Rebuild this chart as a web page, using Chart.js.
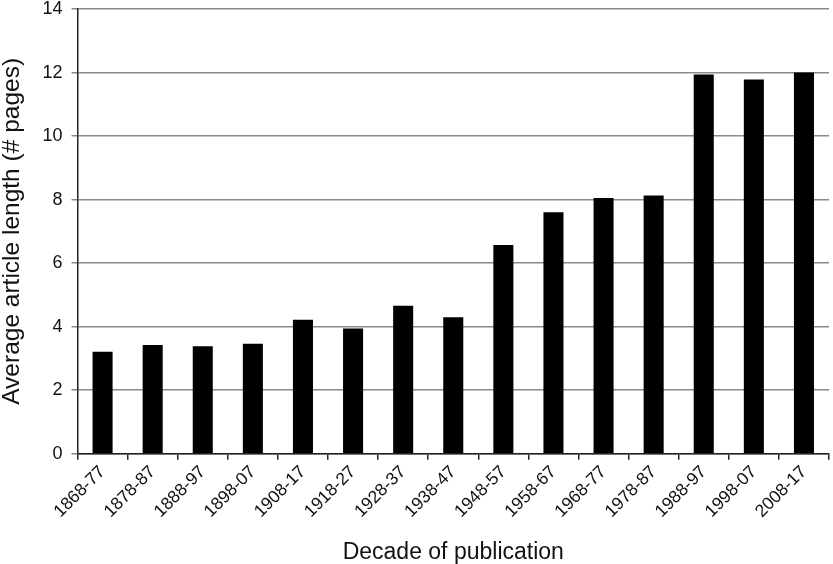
<!DOCTYPE html>
<html>
<head>
<meta charset="utf-8">
<script src="https://cdn.jsdelivr.net/npm/chart.js@4/dist/chart.umd.min.js"></script>
<style>
  html, body { margin: 0; padding: 0; background: #fff; }
  #wrap { width: 833px; height: 564px; }
</style>
</head>
<body>
<div id="wrap"><canvas id="chart" width="833" height="564"></canvas></div>
<script>
// Decades and average article length (pages)
const decades = [
  "1868-77", "1878-87", "1888-97", "1898-07", "1908-17", "1918-27", "1928-37",
  "1938-47", "1948-57", "1958-67", "1968-77", "1978-87", "1988-97", "1998-07", "2008-17"
];
const avgLength = [3.21, 3.42, 3.38, 3.46, 4.22, 3.94, 4.66, 4.3, 6.57, 7.6, 8.05, 8.13, 11.94, 11.78, 12.0];
const yTicks = [0, 2, 4, 6, 8, 10, 12, 14];

const font = "'Liberation Sans', Arial, sans-serif";

const ctx = document.getElementById("chart").getContext("2d");
new Chart(ctx, {
  type: "bar",
  data: {
    labels: decades,
    datasets: [
      {
        data: avgLength,
        backgroundColor: "#000000",
        borderWidth: 0,
        barPercentage: 0.4,
        categoryPercentage: 1.0,
      },
    ],
  },
  options: {
    responsive: false,
    animation: false,
    layout: { padding: { top: 9, right: 4, left: 0, bottom: 0 } },
    plugins: {
      legend: { display: false },
      tooltip: { enabled: false },
    },
    scales: {
      x: {
        offset: true,
        grid: {
          display: true,
          drawOnChartArea: false,
          drawTicks: true,
          tickLength: 6,
          color: "#222",
          lineWidth: 1.5,
        },
        border: { display: true, color: "#222", width: 1.5 },
        ticks: {
          color: "#111",
          font: { family: font, size: 17.5 },
          minRotation: 45,
          maxRotation: 45,
          padding: 2,
        },
        title: {
          display: true,
          text: "Decade of publication",
          color: "#111",
          font: { family: font, size: 23, lineHeight: 1.0 },
          padding: { top: 17, bottom: 0 },
        },
      },
      y: {
        min: 0,
        max: 14,
        afterBuildTicks: (axis) => {
          axis.ticks = yTicks.map((v) => ({ value: v }));
        },
        // let the top gridline sit close to the canvas edge
        afterFit: (axis) => {
          axis.paddingTop = 0;
        },
        grid: {
          color: "#8a8a8a",
          lineWidth: 1.5,
          drawTicks: true,
          tickLength: 6,
        },
        border: { display: true, color: "#222", width: 1.5 },
        ticks: {
          color: "#111",
          font: { family: font, size: 18 },
          padding: 9,
        },
        title: {
          display: true,
          text: "Average article length (# pages)",
          color: "#111",
          font: { family: font, size: 24.5, lineHeight: 1.0 },
          padding: { top: 0, bottom: 9 },
        },
      },
    },
  },
});
</script>
</body>
</html>
